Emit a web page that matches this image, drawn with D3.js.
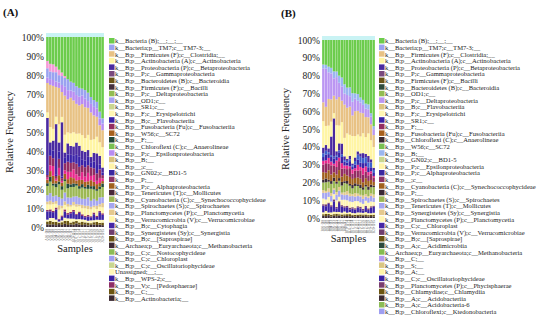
<!DOCTYPE html>
<html><head><meta charset="utf-8">
<script src="https://cdn.jsdelivr.net/npm/d3@7"></script>
<style>body{margin:0;background:#fff}svg{display:block}text{font-family:"Liberation Serif","DejaVu Serif",serif}</style>
</head><body>
<svg id="c" width="550" height="333"></svg>
<script>
// ---------- categories ----------
const samplesA = ["A01-D0","A02-D0","A03-D0","A04-D3","A05-D3","A06-D3","A07-D7","A08-D7","A09-D7","A10-D14","A11-D14","A12-D14","A13-D21","A14-D21","A15-D21","A16-D28","A17-D28","A18-D28","A19-D35","A20-D35"];
const samplesB = ["B01-D0","B02-D0","B03-D0","B04-D3","B05-D3","B06-D3","B07-D7","B08-D7","B09-D7","B10-D14","B11-D14","B12-D14","B13-D21","B14-D21","B15-D21","B16-D28","B17-D28","B18-D28","B19-D35","B20-D35"];
const yTicks = [0,0.1,0.2,0.3,0.4,0.5,0.6,0.7,0.8,0.9,1];

// ---------- legends ----------
const legendA = ["k__Bacteria (B);__;__;__","k__Bacteria;p__TM7;c__TM7-3;__","k__B;p__Firmicutes (F);c__Clostridia;__","k__B;p__Actinobacteria (A);c__Actinobacteria","k__B;p__Proteobacteria (P);c__Betaproteobacteria","k__B;p__P;c__Gammaproteobacteria","k__B;p__Bacteroidetes (B);c__Bacteroidia","k__B;p__Firmicutes (F);c__Bacilli","k__B;p__P;c__Deltaproteobacteria","k__B;p__OD1;c__","k__B;p__SR1;c__","k__B;p__F;c__Erysipelotrichi","k__B;p__B;c__Flavobacteriia","k__B;p__Fusobacteria (Fu);c__Fusobacteriia","k__B;p__W56;c__SC72","k__B;p__F;__","k__B;p__Chloroflexi (C);c__Anaerolineae","k__B;p__P;c__Epsilonproteobacteria","k__B;p__B;__","k__B;p__;c__","k__B;p__GN02;c__BD1-5","k__B;p__P;__","k__B;p__P;c__Alphaproteobacteria","k__B;p__Tenericutes (T);c__Mollicutes","k__B;p__Cyanobacteria (C);c__Synechococcophycideae","k__B;p__Spirochaetes (S);c__Spirochaetes","k__B;p__Planctomycetes (P);c__Planctomycetia","k__B;p__Verrucomicrobia (V);c__Verrucomicrobiae","k__B;p__B;c__Cytophagia","k__B;p__Synergistetes (Sy);c__Synergistia","k__B;p__B;c__[Saprospirae]","k__Archaea;p__Euryarchaeota;c__Methanobacteria","k__B;p__C;c__Nostocophycideae","k__B;p__C;c__Chloroplast","k__B;p__C;c__Oscillatoriophycideae","Unassigned;__;__","k__B;p__WPS-2;c__","k__B;p__V;c__[Pedosphaerae]","k__B;p__C;__","k__B;p__Actinobacteria;__"];
const colorsA = ["#6ccc4c","#9aa2f0","#e8c284","#fff5a4","#4a2aa0","#7b4a7e","#6a5418","#44303e","#92bc52","#a8a2f2","#cad690","#fff7b4","#3a22a8","#922c62","#a6601e","#234a3c","#78c052","#b88cf2","#d8c27e","#fff4a8","#3a28a0","#8a3466","#a0601c","#4a2a3a","#9cb854","#a6a6f0","#e4c98e","#fff6a8","#4628a6","#6e3e6e","#6a5414","#3f2a36","#8cbc56","#9e9ef0","#c8d690","#fff8b8","#3c24a6","#8e2e66","#6b5512","#3c2b34"];
const legendB = ["k__Bacteria (B);__;__;__","k__Bacteria;p__TM7;c__TM7-3;__","k__B;p__Firmicutes (F);c__Clostridia;__","k__B;p__Actinobacteria (A);c__Actinobacteria","k__B;p__Proteobacteria (P);c__Betaproteobacteria","k__B;p__P;c__Gammaproteobacteria","k__B;p__Firmicutes (F);c__Bacilli","k__B;p__Bacteroidetes (B);c__Bacteroidia","k__B;p__OD1;c__","k__B;p__P;c__Deltaproteobacteria","k__B;p__B;c__Flavobacteriia","k__B;p__F;c__Erysipelotrichi","k__B;p__SR1;c__","k__B;p__F;__","k__B;p__Fusobacteria (Fu);c__Fusobacteriia","k__B;p__Chloroflexi (C);c__Anaerolineae","k__B;p__W56;c__SC72","k__B;p__B;__","k__B;p__GN02;c__BD1-5","k__B;p__P;c__Epsilonproteobacteria","k__B;p__P;c__Alphaproteobacteria","k__B;p__;c__","k__B;p__Cyanobacteria (C);c__Synechococcophycideae","k__B;p__P;__","k__B;p__Spirochaetes (S);c__Spirochaetes","k__B;p__Tenericutes (T);c__Mollicutes","k__B;p__Synergistetes (Sy);c__Synergistia","k__B;p__Planctomycetes (P);c__Planctomycetia","k__B;p__C;c__Chloroplast","k__B;p__Verrucomicrobia (V);c__Verrucomicrobiae","k__B;p__B;c__[Saprospirae]","k__B;p__A;c__Acidimicrobiia","k__Archaea;p__Euryarchaeota;c__Methanobacteria","k__B;p__C;__","k__B;p__S;__","k__B;p__A;__","k__B;p__C;c__Oscillatoriophycideae","k__B;p__Planctomycetes (P);c__Phycisphaerae","k__B;p__Chlamydiae;c__Chlamydiia","k__B;p__A;c__Acidobacteriia","k__B;p__A;c__Acidobacteria-6","k__B;p__Chloroflexi;c__Ktedonobacteria"];
const colorsB = ["#6ccc4c","#9aa2f0","#e8c284","#fff5a4","#4a2aa0","#7b4a7e","#6a5418","#2e4a3c","#92bc52","#bb96f2","#dcc482","#fff7b4","#3a22a8","#922c62","#a6601e","#3a2a34","#78c052","#9ab6f0","#c8d690","#fff4a8","#3a28a0","#8a3466","#a0601c","#3a2a36","#9cb854","#a6a6f0","#e4c98e","#fff6b4","#4628a6","#6e3e6e","#6a5414","#2c4a3e","#84bc50","#b49cf0","#d9c683","#fff6a8","#3c24a6","#7a3e70","#6b5512","#3c2b34","#8cbc56","#9e9ef0"];
const extraColors = ["#f59ad6","#e8288c","#8cc4f0","#3c5fcc"];

// ---------- panel A series (percent, bottom -> top) ----------
const aDark   = [1.5,1.2,1.4,1.0,1.6,1.2,1.8,1.1,1.5,1.3,2.0,1.4,1.2,1.6,1.0,1.3,1.5,1.2,1.4,1.1];
const aOlive  = [1.5,2.0,1.2,1.8,0.8,1.5,1.6,2.2,1.0,1.8,1.4,1.2,1.9,1.1,1.6,0.9,1.3,1.8,1.0,1.5];
const aUnass  = [1.0,1.5,2.0,1.2,0.6,1.0,1.8,1.4,2.2,1.6,1.0,1.9,1.3,1.5,1.1,1.7,1.2,1.4,1.8,1.6];
const aWPS    = [4.5,3.5,3.0,5.5,1.0,2.0,3.5,2.0,3.0,4.0,2.5,3.5,2.0,1.5,2.5,1.8,3.5,1.6,4.5,3.0];
const aPedo   = [0.8,1.0,0.6,1.0,0.5,0.8,1.2,0.9,0.7,1.0,0.6,0.8,1.0,0.7,0.9,0.6,1.0,0.8,0.7,0.9];
const aVerru  = [3.0,2.5,3.5,2.0,5.0,4.0,2.5,3.5,3.0,2.5,4.0,3.0,3.5,4.5,3.5,4.0,3.0,4.0,2.5,3.5];
const aPlanc  = [1.5,2.0,1.0,1.5,2.5,1.5,2.0,1.5,1.0,2.0,1.5,1.0,2.0,1.5,2.0,1.5,1.0,2.0,1.5,2.5];
const aSpiro  = [3.5,4.0,3.0,3.0,4.5,4.0,5.0,3.5,4.0,3.0,4.5,4.0,3.5,4.0,5.0,3.5,4.0,3.0,4.0,3.5];
const aCyano  = [5.0,6.0,5.5,4.5,7.0,5.0,6.5,5.0,6.0,5.5,6.0,5.0,6.5,6.0,5.0,7.0,5.5,6.0,5.0,6.0];
const aFF     = [1.5,2.5,1.0,2.0,1.5,2.0,1.0,2.5,1.5,2.0,1.0,1.5,2.0,1.0,2.5,1.5,2.0,1.0,1.5,2.0];
const aW56    = [2.0,3.0,4.0,1.5,3.5,2.0,3.0,2.5,4.0,3.0,2.0,3.5,2.5,3.0,2.0,3.5,2.5,3.0,2.0,1.5];
const aPink2  = [1.0,3.0,5.0,1.0,4.0,1.0,2.0,4.0,3.0,5.0,3.5,2.0,4.5,3.0,5.0,2.5,4.0,2.0,3.0,1.5];
const aFuso   = [1.5,5.0,4.0,1.5,5.0,1.5,4.0,5.5,5.0,4.0,6.0,5.5,4.0,5.5,4.5,5.0,4.0,4.5,5.0,2.0];
const aFlavo  = [1.0,3.0,4.0,1.0,4.0,1.0,3.0,4.0,4.5,4.0,5.0,6.0,3.5,4.0,5.0,3.0,4.0,5.0,3.0,1.5];
const aBeta   = [30,4,5,27,5,30.5,3,6,5,5,7,6,5,5,4,3,5,7,5,3];
const aActino = [3,8,6,4,10,3,10,6,7,8,5,7,9,8,9,10,8,10,8,12];
const aClost  = [16,22,22,16,20,14,22,18,20,18,17,16,18,18,16,16,14,12,10,10];
const aEpsil  = [3,3,3,3,3,4,5,5,4,5,5,5,5,5,4,5,5,5,4,4];
const aTM7    = [5,4,4,5,4,5,5,6,5,5,5,5,4,5,5,4,4,4,4,3];
const aPink1  = [4,4,4,3,3,2,1,0,0,0,0,0,0,0,0,0,0,0,0,0];
const aBact   = [13,14,14,16,18,20,22,23,25,26,28,29,30,31,33,35,37,39,44,48];

// ---------- panel B series (percent, bottom -> top) ----------
const bDark   = [1.2,1.0,1.5,0.8,1.3,1.0,1.4,0.9,1.2,1.1,1.0,1.3,0.8,1.2,1.0,1.4,1.1,0.9,1.2,1.0];
const bOlive  = [0.8,1.2,0.6,1.0,0.9,1.3,0.7,1.1,0.8,1.0,1.2,0.6,1.0,0.8,1.1,0.7,1.0,0.9,0.8,1.2];
const bAUn    = [1.0,1.5,0.8,1.2,1.4,0.9,1.3,1.0,1.5,0.8,1.2,1.0,0.9,1.3,1.1,1.0,1.4,1.2,1.0,1.3];
const bOscil  = [3.5,2.5,4.5,3.0,6.0,2.0,5.0,3.5,2.0,3.0,1.5,2.5,2.0,3.0,2.5,1.5,3.0,2.0,3.5,4.0];
const bPhyc   = [0.8,1.0,0.7,0.9,1.1,0.8,1.0,0.7,0.9,0.8,1.0,0.9,0.8,0.7,1.0,0.9,0.8,1.0,0.9,0.8];
const bPlanc  = [3,2.5,3,2,3,3.5,2.5,3,3.5,3,3.5,3,4,3,2.5,3,3,3.5,3,2.5];
const bTener  = [3,3.5,2.5,3,2.5,3,3.5,3,2.5,3,3,3.5,2.5,3,3.5,3,2.5,3,3.5,3];
const bSyner  = [1.5,1,2,1.5,1,1.5,2,1,1.5,2,1.5,1,2,1.5,1,2,1.5,1,1.5,2];
const bSpiro  = [4,4.5,3.5,5,4,4.5,3.5,4,5,4,4.5,3.5,4,4.5,4,3.5,4.5,4,4,5];
const bPP     = [1.5,2,1,1.5,2,1,1.5,2,1,1.5,1,2,1.5,1,2,1.5,1,2,1.5,1];
const bCyano  = [4,3,5,3.5,3,4,4.5,3,4,3,4,3.5,3,4,3.5,3,4,3.5,3,2.5];
const bFF     = [4,5,3.5,5,4,4,5,4.5,3,3.5,5,3,4,4,5,4.5,4,3.5,4,3];
const bPink2  = [2,1.5,3,2,1,3.5,2,3,1.5,2,1,2.5,1.5,3.5,2,4,3,2,1.5,1];
const bSR1    = [2,3,2,2.5,3,2,3,3.5,2,1.5,3,1.5,2,3,2.5,3,2,3,2.5,2];
const bBlue   = [2,2,1,1,1,1,1,1.5,1,1,1,1,2,3,3.5,3,3.5,3,3,2];
const bBeta   = [3,3,2,10,22,2,4,6,2,1,2,1,2,2,2,3,2,4,2,1.5];
const bActino = [14,10,12,8,3,14,10,12,10,14,12,16,12,10,10,12,10,14,12,14];
const bClost  = [10,10,14,12,10,14,16,12,18,14,16,12,14,14,14,12,12,10,10,8];
const bDelta  = [18,20,14,14,10,12,8,8,6,7,6,8,7,6,6,5,5,5,5,4];
const bBB     = [2,2,3,3,4,3,4,5,5,4,5,5,3,4,3,3,3,3,2,2];
const bBact   = [13,13,14,15,18,17,20,21,24,26,27,31,30,32,34,36,38,40,46,58];

// layer lists: [key, values, legend index (or -1-extraIndex)]
const layersA = [["dark",aDark,39],["olive",aOlive,38],["unass",aUnass,35],["wps",aWPS,36],["pedo",aPedo,37],["verru",aVerru,27],["planc",aPlanc,26],["spiro",aSpiro,25],["cyano",aCyano,24],["ff",aFF,15],["w56",aW56,14],["pink2",aPink2,-2],["fuso",aFuso,13],["flavo",aFlavo,12],["beta",aBeta,4],["actino",aActino,3],["clost",aClost,2],["epsil",aEpsil,17],["tm7",aTM7,1],["pink1",aPink1,-1],["bact",aBact,0]];
const layersB = [["dark",bDark,39],["olive",bOlive,38],["aun",bAUn,35],["oscil",bOscil,36],["phyc",bPhyc,37],["planc",bPlanc,27],["tener",bTener,25],["syner",bSyner,26],["spiro",bSpiro,24],["pp",bPP,23],["cyano",bCyano,22],["ff",bFF,13],["pink2",bPink2,-2],["sr1",bSR1,12],["blue",bBlue,-4],["beta",bBeta,4],["actino",bActino,3],["clost",bClost,2],["delta",bDelta,9],["bb",bBB,17],["bact",bBact,0]];

const svg = d3.select("#c");

function panel(cfg){
  const g = svg.append("g");
  const x = d3.scaleBand().domain(cfg.samples).range([cfg.x0,cfg.x1]).paddingInner(0.12).paddingOuter(0.05);
  const y = d3.scaleLinear().domain([0,1]).range([cfg.yb,cfg.yt]);
  const keys = cfg.layers.map(l=>l[0]);
  const rows = cfg.samples.map((s,i)=>{const r={sample:s}; cfg.layers.forEach(l=>r[l[0]]=l[1][i]); return r;});
  const colorOf = {};
  cfg.layers.forEach(l=>colorOf[l[0]] = l[2]>=0 ? cfg.colors[l[2]] : extraColors[-l[2]-1]);
  const series = d3.stack().keys(keys).offset(d3.stackOffsetExpand)(rows);
  g.append("rect").attr("x",cfg.x0).attr("y",cfg.yt-4).attr("width",cfg.x1-cfg.x0).attr("height",4).attr("fill","#c9f3f4");
  g.selectAll("g.s").data(series).join("g").attr("fill",d=>colorOf[d.key])
    .selectAll("rect").data(d=>d).join("rect")
    .attr("x",d=>x(d.data.sample)).attr("width",x.bandwidth())
    .attr("y",d=>y(d[1])).attr("height",d=>Math.max(0,y(d[0])-y(d[1])));
  const ax = g.append("g").attr("transform",`translate(${cfg.x0},0)`)
    .call(d3.axisLeft(y).tickValues(yTicks).tickFormat(d3.format(".0%")).tickSize(0).tickPadding(2));
  ax.select(".domain").remove();
  ax.selectAll("text").attr("font-size",9.5).attr("fill","#222").attr("font-family","Liberation Serif");
  g.append("g").selectAll("text").data(cfg.samples).join("text")
    .attr("transform",d=>`translate(${x(d)+x.bandwidth()/2+1},${cfg.yb+2}) rotate(-90)`)
    .attr("text-anchor","end").attr("font-size",3.6).attr("fill","#666").text(d=>d);
  g.append("text").attr("transform",`translate(${cfg.ylabX},${(cfg.yt+cfg.yb)/2}) rotate(-90)`)
    .attr("text-anchor","middle").attr("font-size",10.5).attr("fill","#222").text("Relative Frequency");
  g.append("text").attr("x",(cfg.x0+cfg.x1)/2).attr("y",cfg.samplesY).attr("text-anchor","middle")
    .attr("font-size",10.5).attr("fill","#222").text("Samples");
  g.append("text").attr("x",cfg.tagX).attr("y",cfg.tagY).attr("font-size",11).attr("font-weight","bold").attr("fill","#111").text(cfg.tag);
  const it = g.append("g").selectAll("g").data(cfg.legend).join("g").attr("transform",(d,i)=>`translate(${cfg.lx},${cfg.ly+i*cfg.lstep})`);
  it.append("rect").attr("x",0).attr("y",-3).attr("width",5.5).attr("height",5.5).attr("fill",(d,i)=>cfg.colors[i]);
  it.append("text").attr("x",6).attr("y",2.3).attr("font-size",6.6).attr("fill","#222").text(d=>d);
}

panel({samples:samplesA,layers:layersA,colors:colorsA,legend:legendA,x0:46,x1:104,yt:37,yb:227,ylabX:13,samplesY:252,tag:"(A)",tagX:3,tagY:16,lx:109,ly:41,lstep:6.6});
panel({samples:samplesB,layers:layersB,colors:colorsB,legend:legendB,x0:322,x1:375,yt:40,yb:218,ylabX:289,samplesY:242,tag:"(B)",tagX:281,tagY:17,lx:379,ly:41,lstep:6.6});
</script>
</body></html>
